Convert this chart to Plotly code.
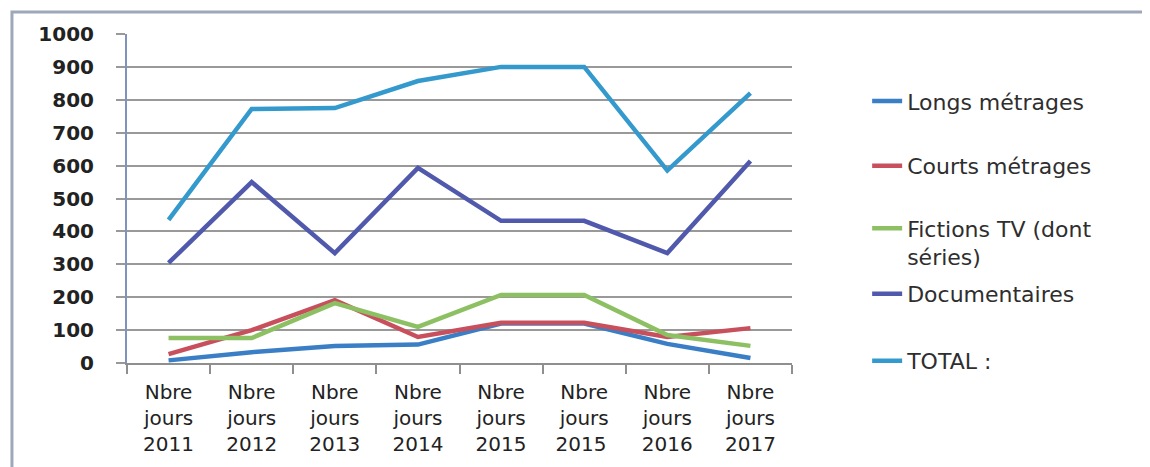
import plotly.graph_objects as go

categories = ["Nbre<br>jours<br>2011", "Nbre<br>jours<br>2012", "Nbre<br>jours<br>2013", "Nbre<br>jours<br>2014",
              "Nbre<br>jours<br>2015", "Nbre<br>jours<br>2015 ", "Nbre<br>jours<br>2016", "Nbre<br>jours<br>2017"]

longs_metrages = [8, 33, 52, 56, 120, 120, 58, 15]
courts_metrages = [27, 100, 191, 79, 122, 122, 79, 106]
fictions_tv = [76, 76, 182, 110, 207, 207, 85, 52]
documentaires = [304, 550, 334, 593, 432, 432, 334, 614]
total = [435, 772, 775, 857, 900, 900, 585, 820]

series_names = ["Longs métrages", "Courts métrages", "Fictions TV (dont<br>séries)", "Documentaires", "TOTAL :"]
series_values = [longs_metrages, courts_metrages, fictions_tv, documentaires, total]
series_colors = ["#3A7EC6", "#C8505C", "#8CC063", "#5059AC", "#3499CC"]
legend_ids = ["legend", "legend2", "legend3", "legend4", "legend5"]
legend_y = [0.796, 0.599, 0.365, 0.210, 0.006]

fig = go.Figure()
for name, vals, col, lid in zip(series_names, series_values, series_colors, legend_ids):
    fig.add_trace(go.Scatter(x=categories, y=vals, mode="lines", name=name,
                             line=dict(color=col, width=4.5), legend=lid))

legend_font = dict(family="DejaVu Sans", size=22, color="#2e2e2e")
leg_common = dict(x=1.113, xanchor="left", yanchor="middle", bgcolor="rgba(0,0,0,0)",
                  font=legend_font, itemwidth=30, tracegroupgap=0)
layout_legends = {}
for lid, ly in zip(legend_ids, legend_y):
    d = dict(leg_common)
    d["y"] = ly
    if lid == "legend3":
        d["valign"] = "top"
    layout_legends[lid] = d

fig.update_layout(
    width=1150, height=467,
    margin=dict(l=119, r=366, t=26, b=112),
    paper_bgcolor="white", plot_bgcolor="white",
    showlegend=True,
    **layout_legends,
    xaxis=dict(
        type="category", showgrid=False, showline=True, linecolor="#8f8f8f", linewidth=2,
        ticks="outside", tickson="boundaries", ticklen=9, tickcolor="#8f8f8f", tickwidth=2,
        ticklabelstandoff=10,
        tickfont=dict(family="DejaVu Sans", size=20, color="#222222"),
        range=[-0.5, 7.5], fixedrange=True,
    ),
    yaxis=dict(
        range=[0, 1000], dtick=100, showgrid=True, gridcolor="#999999", gridwidth=1.5,
        showline=True, linecolor="#7f93bd", linewidth=2, zeroline=False,
        ticks="outside", ticklen=9, tickcolor="#999999", tickwidth=1.5,
        ticklabelstandoff=18,
        tickfont=dict(family="DejaVu Sans", size=20, color="#222222", weight="bold"),
        fixedrange=True,
    ),
    shapes=[dict(type="rect", xref="paper", yref="paper", x0=-0.173, x1=1.6, y0=-0.4, y1=1.067,
                 line=dict(color="#9ea8b8", width=3), layer="below")],
)

fig.write_html("out.html")
